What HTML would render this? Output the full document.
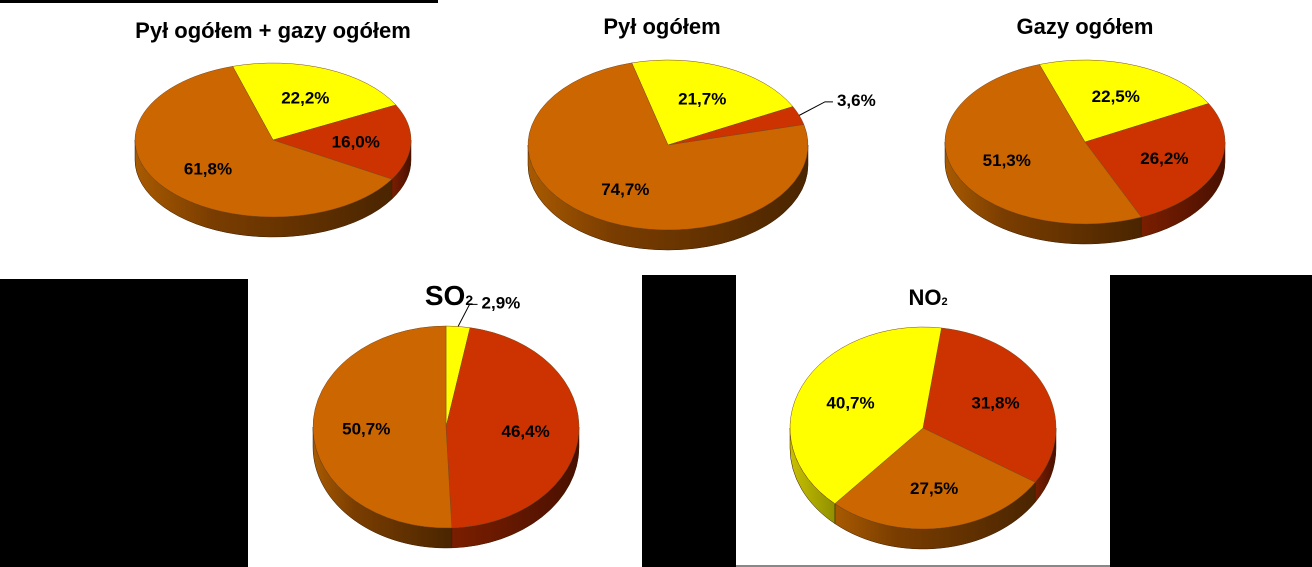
<!DOCTYPE html>
<html><head><meta charset="utf-8"><style>
body{margin:0;width:1312px;height:567px;overflow:hidden;background:#fff;font-family:"Liberation Sans",sans-serif}
svg{display:block}
</style></head><body>
<svg id="c" width="1312" height="567" xmlns="http://www.w3.org/2000/svg">
<defs>
<linearGradient id="gO" x1="0" x2="1"><stop offset="0" stop-color="#a85a00"/><stop offset="0.3" stop-color="#7a3d00"/><stop offset="1" stop-color="#4a2500"/></linearGradient>
<linearGradient id="gR" x1="0" x2="1"><stop offset="0" stop-color="#7a1e00"/><stop offset="1" stop-color="#4a1000"/></linearGradient>
<linearGradient id="gY" x1="0" x2="1"><stop offset="0" stop-color="#c8c000"/><stop offset="1" stop-color="#909000"/></linearGradient>
</defs>
<rect x="0" y="0" width="438" height="3" fill="#000"/>
<rect x="0" y="279" width="248" height="288" fill="#000"/>
<rect x="642" y="275" width="94" height="292" fill="#000"/>
<rect x="1110" y="275" width="202" height="292" fill="#000"/>
<rect x="736" y="565" width="374" height="2" fill="#888"/>
</svg>
<script>
const titles=["Pył ogółem + gazy ogółem","Pył ogółem","Gazy ogółem","SO","NO"];
const cats1=["yellow","red","orange"];
const vals1=[22.2,16.0,61.8];
const vals2=[21.7,3.6,74.7];
const vals3=[22.5,26.2,51.3];
const vals4=[2.9,46.4,50.7];
const cats5=["red","orange","yellow"];
const vals5=[31.8,27.5,40.7];
const NS="http://www.w3.org/2000/svg";
const svgEl=document.getElementById('c');
const topColor={yellow:"#ffff00",red:"#cc3300",orange:"#cc6600"};
const sideColor={yellow:"url(#gY)",red:"url(#gR)",orange:"url(#gO)"};
function mk(t,a){const e=document.createElementNS(NS,t);for(const k in a)e.setAttribute(k,a[k]);svgEl.appendChild(e);return e;}
function pt(p,a){const r=a*Math.PI/180;return [p.cx+p.rx*Math.cos(r),p.cy+p.ry*Math.sin(r)];}
function drawPie(p,cats,vals,name){
  const tot=vals.reduce((a,b)=>a+b,0);
  let a=p.start;const sl=[];
  vals.forEach((v,i)=>{const s=v/tot*360;sl.push([a,a+s,cats[i],v]);a+=s;});
  sl.forEach(([a0,a1,c],i)=>{
    for(let k=-1;k<=1;k++){
      const lo=Math.max(a0,0+360*k),hi=Math.min(a1,180+360*k);
      if(hi<=lo)continue;
      const P0=pt(p,lo),P1=pt(p,hi);
      const d=`M${P0[0]},${P0[1]} A${p.rx},${p.ry} 0 0 1 ${P1[0]},${P1[1]} L${P1[0]},${P1[1]+p.d} A${p.rx},${p.ry} 0 0 0 ${P0[0]},${P0[1]+p.d} Z`;
      const e=mk('path',{d:d,fill:sideColor[c],stroke:"#3a1a00","stroke-width":0.5});
      
      
    }
  });
  sl.forEach(([a0,a1,c,v],i)=>{
    const P0=pt(p,a0),P1=pt(p,a1);
    const large=(a1-a0)>180?1:0;
    const e=mk('path',{d:`M${p.cx},${p.cy} L${P0[0]},${P0[1]} A${p.rx},${p.ry} 0 ${large} 1 ${P1[0]},${P1[1]} Z`,fill:topColor[c],stroke:"#7a4a20","stroke-width":0.5});
    
    
    const m=(a0+a1)/2;
    const small=v<5;
    const f=small?1.12:0.6;
    let lx=p.cx+p.rx*f*Math.cos(m*Math.PI/180),ly=p.cy+p.ry*f*Math.sin(m*Math.PI/180);
    if(small){
      const E=pt(p,m);
      lx+=22;ly-=12;
      const l=mk('polyline',{points:`${E[0]},${E[1]} ${lx-12},${ly+2} ${lx-4},${ly+2}`,fill:"none",stroke:"#000","stroke-width":1});
      
      
    }
    const t=mk('text',{x:lx,y:ly+6,"font-size":17,"font-weight":"bold","text-anchor":small?"start":"middle",fill:"#000"});
    t.textContent=v.toFixed(1).replace('.',',')+'%';
    
    
  });
}
function title(x,y,txt,sub,size,name){
  const t=mk('text',{x:x,y:y,"font-size":size,"font-weight":"bold","text-anchor":"middle",fill:"#000"});
  t.textContent=txt;
  if(sub){const s=document.createElementNS(NS,'tspan');s.setAttribute('font-size',size*0.5);s.textContent=sub;t.appendChild(s);}
  
  
}
drawPie({cx:273,cy:140,rx:138,ry:77,d:20,start:-107},cats1,vals1,'pie-total');
drawPie({cx:668,cy:145,rx:140,ry:85,d:20,start:-105},cats1,vals2,'pie-dust');
drawPie({cx:1085,cy:142,rx:140,ry:82,d:20,start:-109},cats1,vals3,'pie-gases');
drawPie({cx:446,cy:427,rx:133,ry:101,d:20,start:-90},cats1,vals4,'pie-so2');
drawPie({cx:923,cy:428,rx:133,ry:101,d:20,start:-82},cats5,vals5,'pie-no2');
title(273,38,titles[0],null,22,'title-total');
title(662,34,titles[1],null,22,'title-dust');
title(1085,34,titles[2],null,22,'title-gases');
title(449,305,titles[3],"2",28,'title-so2');
title(928,305,titles[4],"2",22,'title-no2');
</script>
</body></html>
